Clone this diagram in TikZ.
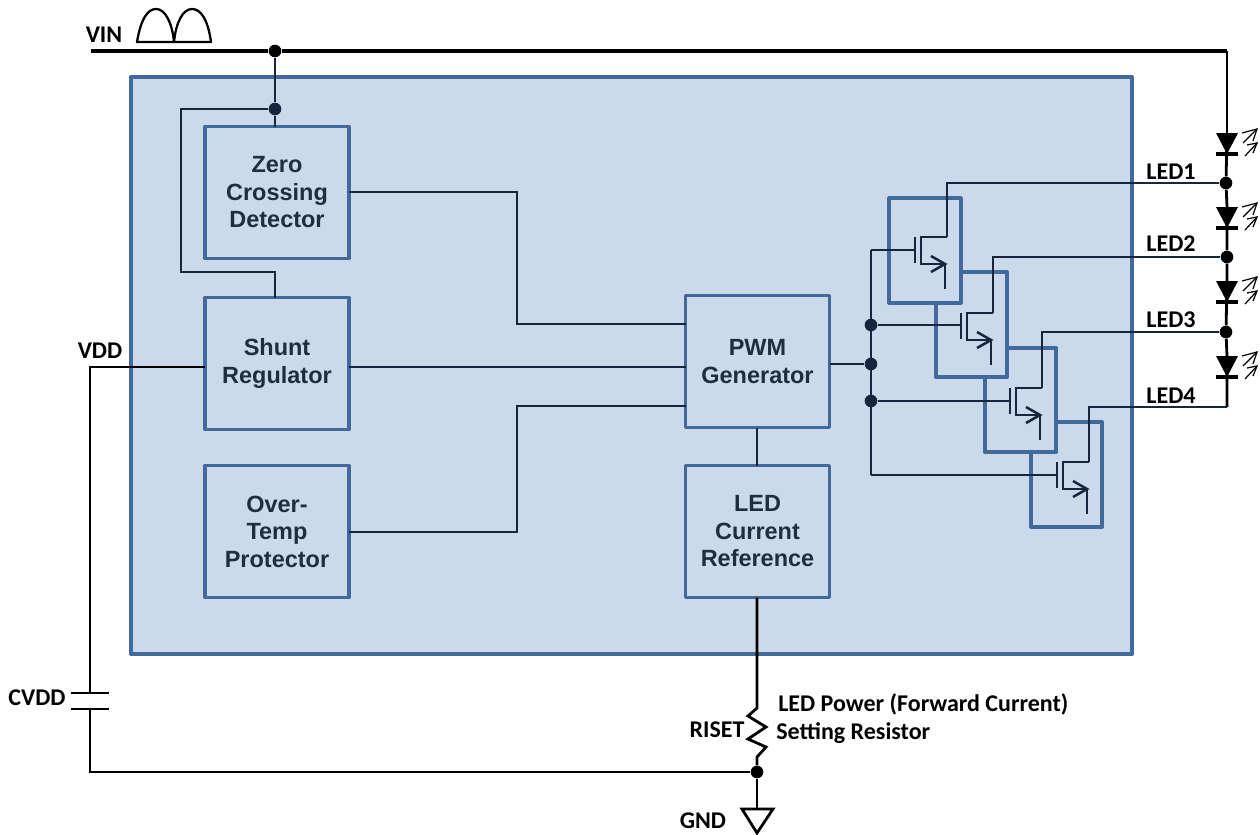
\documentclass[tikz,border=0pt]{standalone}
\usepackage{fontspec}
\setmainfont{Liberation Sans}
\newfontfamily\lblfont{Carlito}
\usetikzlibrary{arrows.meta}
\definecolor{panelfill}{HTML}{CCD9EA}
\definecolor{panelline}{HTML}{41699C}
\definecolor{inkdark}{HTML}{17263C}
\definecolor{blocktext}{HTML}{1F2D3F}
\tikzset{
  x=0.75pt,y=-0.75pt,
  panel/.style={draw=panelline,fill=panelfill,line width=3pt,line join=round},
  block/.style={draw=panelline,fill=panelfill,line width=2.8pt,line join=round,outer sep=0pt,inner sep=0pt,
    minimum width=108pt,minimum height=99pt,align=center,text=blocktext,
    font=\fontsize{17.6}{20.6}\selectfont\bfseries},
  mosbox/.style={draw=panelline,fill=panelfill,line width=2.8pt,line join=round,outer sep=0pt,inner sep=0pt,
    minimum width=53.5pt,minimum height=78.5pt},
  wire/.style={draw=inkdark,line width=1.9pt,line join=miter},
  ext/.style={draw=black,line width=2.1pt,line join=miter},
  rail/.style={draw=black,line width=2.7pt},
  dot/.style={circle,fill=inkdark,inner sep=0pt,minimum size=9.5pt},
  extdot/.style={circle,fill=black,inner sep=0pt,minimum size=9.5pt},
  glow/.style={draw=black,line width=0.9pt,line join=miter},
  lbl/.style={font=\lblfont\fontsize{18}{20}\selectfont\bfseries,text=black,inner sep=0pt},
  pics/mos/.style={code={
    \coordinate (-g) at (0,0);
    \coordinate (-d) at (32,-13);
    \draw[wire] (0,-13) -- (0,13);
    \draw[wire] (32,-13) -- (6,-13) -- (6,14) -- (30,14);
    \draw[wire] (30,14) -- (30,39);
    \draw[wire] (16,6) -- (30,14) -- (16,22);
  }},
  pics/led/.style={code={
    \coordinate (-a) at (0,0);
    \fill[black] (-11,0) -- (11,0) -- (0,21) -- cycle;
    \draw[black,line width=2.4pt] (-11,21) -- (11,21);
    \draw[glow] (16,10) -- (30,-4);
    \draw[glow] (15,0) -- (30,-4) -- (26,8);
    \draw[glow] (18,23) -- (30,10);
    \draw[glow] (20,12) -- (30,10) -- (26,20);
  }}
}
\begin{document}
\begin{tikzpicture}
\useasboundingbox (0,0) rectangle (1260,835);
\node[panel,minimum width=750.75pt,minimum height=432.75pt,inner sep=0pt,outer sep=0pt] (chip) at (631.5,365.5) {};

% function blocks
\node[block] (zcd) at (277,192.5) {Zero\\Crossing\\Detector};
\node[block] (shunt) at (277,363.5) {Shunt\\Regulator};
\node[block] (otp) at (277,531.5) {Over-\\Temp\\Protector};
\node[block] (pwm) at (757.5,361.5) {PWM\\Generator};
\node[block] (ref) at (757.5,531.5) {LED\\Current\\Reference};

% transistor boxes, last one first so that each one overlaps the next
\node[mosbox] (box4) at (1066.5,474.5) {};
\node[mosbox] (box3) at (1020.5,400) {};
\node[mosbox] (box2) at (971.5,324.5) {};
\node[mosbox] (box1) at (925,250.5) {};

\pic (m1) at (915,250) {mos};
\pic (m2) at (961,326) {mos};
\pic (m3) at (1010,401) {mos};
\pic (m4) at (1057,475) {mos};

% junctions
\node[extdot] (vintap) at (275,51) {};
\node[dot] (zcdtap) at (275,109) {};
\node[dot] (bus1) at (871,325) {};
\node[dot] (bus2) at (871,364) {};
\node[dot] (bus3) at (871,401) {};
\coordinate (bustop) at (871,250);
\coordinate (busbot) at (871,475);
\node[extdot] (led1j) at (1226,183) {};
\node[extdot] (led2j) at (1227,257) {};
\node[extdot] (led3j) at (1226,332) {};
\coordinate (led4j) at (1227,407);
\coordinate (vinstart) at (91,51);
\coordinate (vincorner) at (1227,51);
\node[extdot] (gndj) at (757,772) {};

% LEDs
\pic (d1) at (1227,133) {led};
\pic (d2) at (1227,207) {led};
\pic (d3) at (1227,281) {led};
\pic (d4) at (1227,356) {led};

% rails
\draw[rail] (vinstart) -- (vintap) -- (vincorner);
\draw[ext] (vincorner) -- (d1-a);
\draw[ext] (d1-a) -- (led1j) -- (d2-a) -- (led2j) -- (d3-a) -- (led3j) -- (d4-a) -- (led4j);

% inner wiring
\draw[wire] (vintap) -- (zcdtap) -- (zcd.north -| zcdtap);
\draw[wire] (zcdtap) -- (181,109) -- (181,272) -- (275,272) -- (shunt.north -| 275,0);
\draw[wire] (zcd.east |- 0,192) -- (517,192) -- (517,324) -- (pwm.west |- 0,324);
\draw[wire] (shunt.east |- 0,367) -- (pwm.west |- 0,367);
\draw[wire] (otp.east |- 0,532) -- (517,532) -- (517,406) -- (pwm.west |- 0,406);
\draw[wire] (pwm.south -| 757,0) -- (ref.north -| 757,0);
\draw[wire] (pwm.east |- bus2) -- (bus2);
\draw[wire] (bustop) -- (busbot);
\draw[wire] (bustop) -- (m1-g);
\draw[wire] (bus1) -- (m2-g |- bus1);
\draw[wire] (bus3) -- (m3-g);
\draw[wire] (busbot) -- (m4-g);
\draw[wire] (m1-d) -- (m1-d |- led1j) -- (led1j);
\draw[wire] (m2-d) -- (m2-d |- led2j) -- (led2j);
\draw[wire] (m3-d) -- (m3-d |- led3j) -- (led3j);
\draw[wire] (m4-d) -- (m4-d |- led4j) -- (led4j);

% outer wiring
\coordinate (capA) at (90,693);
\coordinate (capB) at (90,709);
\draw[ext] (shunt.west |- 0,367) -- (90,367) -- (capA);
\draw[ext] (71,693) -- (109,693);
\draw[ext] (71,709) -- (109,709);
\draw[ext] (capB) -- (90,772) -- (gndj);
\draw[ext] (ref.south -| 757,0) -- (757,708) -- (748,716) -- (766,727) -- (748,739) -- (766,747) -- (757,757) -- (gndj);
\coordinate (gndtop) at (757,809);
\draw[ext] (gndj) -- (gndtop);
\draw[ext,line join=miter] (742,809) -- (773,809) -- (757,833) -- cycle;

% AC waveform
\draw[black,line width=1.7pt,line join=round]
  (137,42) .. controls (141,18) and (148,9) .. (156,9) .. controls (165,9) and (172,22) .. (174,42)
  .. controls (176,22) and (183,9) .. (192,9) .. controls (201,9) and (208,20) .. (211,42) -- cycle;

% labels
\node[lbl] (lvin) at (104,35) {VIN};
\node[lbl] (lvdd) at (100,351) {VDD};
\node[lbl] (lcvdd) at (37,698) {CVDD};
\node[lbl] (ll1) at (1171,172) {LED1};
\node[lbl] (ll2) at (1171,244) {LED2};
\node[lbl] (ll3) at (1171,320) {LED3};
\node[lbl] (ll4) at (1171,396) {LED4};
\node[lbl] (lris) at (717,730) {RISET};
\node[lbl] (lgnd) at (703,821) {GND};
\node[lbl,anchor=west] (lpow) at (778,704) {LED Power (Forward Current)};
\node[lbl,anchor=west] (lset) at (776,733) {Setting Resistor};
\end{tikzpicture}
\end{document}
